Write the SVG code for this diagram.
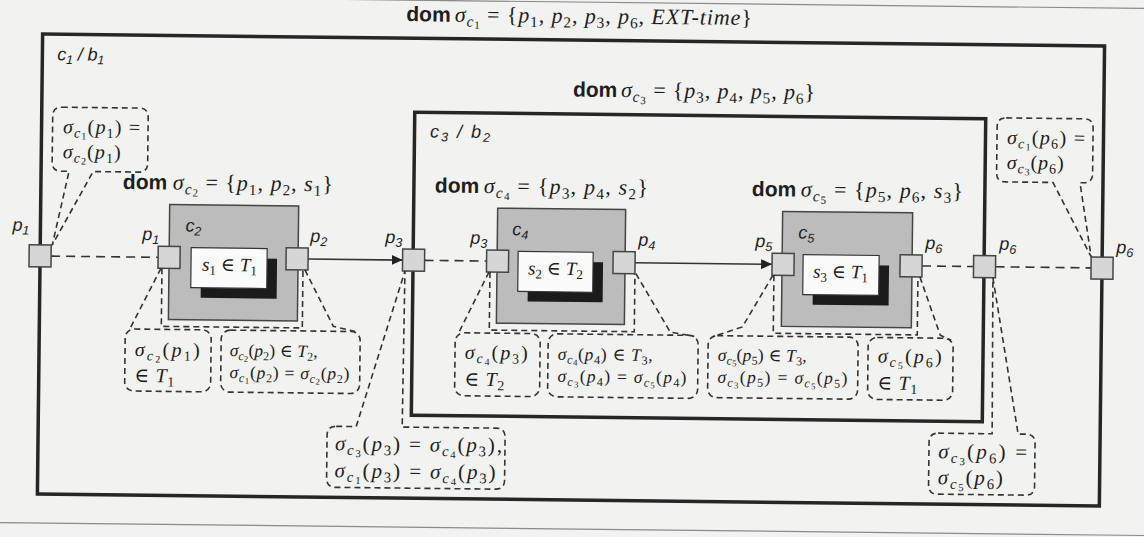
<svg xmlns="http://www.w3.org/2000/svg" width="1144" height="537" viewBox="0 0 1144 537">
<defs>
<style>
.dom{font-family:"Liberation Sans",Arial,sans-serif;font-weight:bold;font-size:21px;fill:#1e1e1e;}
.m{font-family:"Liberation Serif","Times New Roman","DejaVu Serif",serif;fill:#1e1e1e;}
.lab{font-family:"Liberation Sans",Arial,sans-serif;font-style:italic;font-size:18px;fill:#1e1e1e;}
.i{font-style:italic;}
.sb{font-size:70%;}
.ss{font-size:50%;}
.frame{fill:none;stroke:#262626;stroke-width:3.5;}
.comp{fill:#bcbcbc;stroke:#454545;stroke-width:1.5;}
.port{fill:#d6d6d6;stroke:#454545;stroke-width:1.5;}
.inner{fill:#fbfbfb;stroke:#333;stroke-width:1.2;}
.shadow{fill:#1b1b1b;}
.call{fill:none;stroke:#333;stroke-width:1.6;stroke-dasharray:6 4;}
.dl{fill:none;stroke:#333;stroke-width:1.6;stroke-dasharray:9 6;}
.sl{fill:none;stroke:#333;stroke-width:1.6;}
.pg{fill:none;stroke:#8a8a8a;stroke-width:1.2;}
</style>
<marker id="arr" viewBox="0 0 11 10" refX="11" refY="5" markerWidth="11" markerHeight="10" markerUnits="userSpaceOnUse" orient="auto"><path d="M0,0 L11,5 L0,10 Z" fill="#222"/></marker>
</defs>
<rect x="0" y="0" width="1144" height="537" fill="#f2f2f0"/>
<g transform="rotate(0.65 572 268)">
<g id="page-lines">
<line class="pg" x1="-20" y1="2" x2="1170" y2="2"/>
<line class="pg" x1="-20" y1="529" x2="1170" y2="529"/>
</g>
<g id="c1">
<rect class="frame" x="40" y="40" width="1062" height="460"/>
<text class="lab" x="55" y="66" textLength="47">c<tspan class="sb" dy=".3em">1</tspan><tspan dy="-.21em"> / b</tspan><tspan class="sb" dy=".3em">1</tspan></text>
<text class="dom" x="403.5" y="23">dom</text>
<text class="m" x="452" y="23" font-size="22" textLength="297"><tspan class="i">σ</tspan><tspan class="i sb" dy=".3em">c</tspan><tspan class="ss" dy=".2em">1</tspan><tspan dy="-.31em"> = {</tspan><tspan class="i">p</tspan><tspan class="sb" dy=".3em">1</tspan><tspan dy="-.21em">, </tspan><tspan class="i">p</tspan><tspan class="sb" dy=".3em">2</tspan><tspan dy="-.21em">, </tspan><tspan class="i">p</tspan><tspan class="sb" dy=".3em">3</tspan><tspan dy="-.21em">, </tspan><tspan class="i">p</tspan><tspan class="sb" dy=".3em">6</tspan><tspan dy="-.21em">, </tspan><tspan class="i">EXT-time</tspan><tspan>}</tspan></text>
</g>
<g id="c3">
<rect class="frame" x="413" y="114" width="571" height="303"/>
<text class="lab" x="428.5" y="139" textLength="60">c<tspan class="sb" dy=".3em">3</tspan><tspan dy="-.21em"> / b</tspan><tspan class="sb" dy=".3em">2</tspan></text>
<text class="dom" x="571" y="96.5">dom</text>
<text class="m" x="619" y="96.5" font-size="22" textLength="194"><tspan class="i">σ</tspan><tspan class="i sb" dy=".3em">c</tspan><tspan class="ss" dy=".2em">3</tspan><tspan dy="-.31em"> = {</tspan><tspan class="i">p</tspan><tspan class="sb" dy=".3em">3</tspan><tspan dy="-.21em">, </tspan><tspan class="i">p</tspan><tspan class="sb" dy=".3em">4</tspan><tspan dy="-.21em">, </tspan><tspan class="i">p</tspan><tspan class="sb" dy=".3em">5</tspan><tspan dy="-.21em">, </tspan><tspan class="i">p</tspan><tspan class="sb" dy=".3em">6</tspan><tspan dy="-.21em">}</tspan></text>
</g>
<g id="c2">
<text class="dom" x="122" y="194">dom</text>
<text class="m" x="172" y="194" font-size="22" textLength="160"><tspan class="i">σ</tspan><tspan class="i sb" dy=".3em">c</tspan><tspan class="ss" dy=".2em">2</tspan><tspan dy="-.31em"> = {</tspan><tspan class="i">p</tspan><tspan class="sb" dy=".3em">1</tspan><tspan dy="-.21em">, </tspan><tspan class="i">p</tspan><tspan class="sb" dy=".3em">2</tspan><tspan dy="-.21em">, </tspan><tspan class="i">s</tspan><tspan class="sb" dy=".3em">1</tspan><tspan dy="-.21em">}</tspan></text>
<rect class="comp" x="169" y="209" width="129" height="115"/>
<text class="lab" x="185" y="236">c<tspan class="sb" dy=".3em">2</tspan></text>
<rect class="shadow" x="201" y="262" width="76" height="40"/>
<rect class="inner" x="191" y="252" width="76" height="40"/>
<text class="m" x="202" y="275" font-size="19" textLength="55"><tspan class="i">s</tspan><tspan class="sb" dy=".3em">1</tspan><tspan dy="-.21em"> ∈ </tspan><tspan class="i">T</tspan><tspan class="sb" dy=".3em">1</tspan></text>
</g>
<g id="c4">
<text class="dom" x="434" y="194">dom</text>
<text class="m" x="483" y="194" font-size="22" textLength="164"><tspan class="i">σ</tspan><tspan class="i sb" dy=".3em">c</tspan><tspan class="ss" dy=".2em">4</tspan><tspan dy="-.31em"> = {</tspan><tspan class="i">p</tspan><tspan class="sb" dy=".3em">3</tspan><tspan dy="-.21em">, </tspan><tspan class="i">p</tspan><tspan class="sb" dy=".3em">4</tspan><tspan dy="-.21em">, </tspan><tspan class="i">s</tspan><tspan class="sb" dy=".3em">2</tspan><tspan dy="-.21em">}</tspan></text>
<rect class="comp" x="497" y="209" width="128" height="115"/>
<text class="lab" x="512" y="236">c<tspan class="sb" dy=".3em">4</tspan></text>
<rect class="shadow" x="528" y="262" width="75" height="40"/>
<rect class="inner" x="518" y="252" width="75" height="40"/>
<text class="m" x="528" y="275" font-size="19" textLength="55"><tspan class="i">s</tspan><tspan class="sb" dy=".3em">2</tspan><tspan dy="-.21em"> ∈ </tspan><tspan class="i">T</tspan><tspan class="sb" dy=".3em">2</tspan></text>
</g>
<g id="c5">
<text class="dom" x="751" y="194">dom</text>
<text class="m" x="800" y="194" font-size="22" textLength="162"><tspan class="i">σ</tspan><tspan class="i sb" dy=".3em">c</tspan><tspan class="ss" dy=".2em">5</tspan><tspan dy="-.31em"> = {</tspan><tspan class="i">p</tspan><tspan class="sb" dy=".3em">5</tspan><tspan dy="-.21em">, </tspan><tspan class="i">p</tspan><tspan class="sb" dy=".3em">6</tspan><tspan dy="-.21em">, </tspan><tspan class="i">s</tspan><tspan class="sb" dy=".3em">3</tspan><tspan dy="-.21em">}</tspan></text>
<rect class="comp" x="782" y="209" width="130" height="115"/>
<text class="lab" x="798" y="236">c<tspan class="sb" dy=".3em">5</tspan></text>
<rect class="shadow" x="813" y="262" width="76" height="40"/>
<rect class="inner" x="803" y="252" width="76" height="40"/>
<text class="m" x="813" y="275" font-size="19" textLength="55"><tspan class="i">s</tspan><tspan class="sb" dy=".3em">3</tspan><tspan dy="-.21em"> ∈ </tspan><tspan class="i">T</tspan><tspan class="sb" dy=".3em">1</tspan></text>
</g>
<g id="connectors">
<path class="dl" d="M51,262 H158"/>
<path class="sl" d="M308,262 H402.5" marker-end="url(#arr)"/>
<path class="dl" d="M424.5,262 H486.5"/>
<path class="sl" d="M635,262 H772" marker-end="url(#arr)"/>
<path class="dl" d="M922,262 H973.5"/>
<path class="dl" d="M995.5,262 H1091"/>
</g>
<g id="ports">
<g id="port-c1-p1"><rect class="port" x="29" y="251" width="22" height="22"/><text class="lab" x="12" y="237">p<tspan class="sb" dy=".3em">1</tspan></text></g>
<g id="port-c2-p1"><rect class="port" x="158" y="251" width="22" height="22"/><text class="lab" x="142" y="245">p<tspan class="sb" dy=".3em">1</tspan></text></g>
<g id="port-c2-p2"><rect class="port" x="286" y="251" width="22" height="22"/><text class="lab" x="310" y="245">p<tspan class="sb" dy=".3em">2</tspan></text></g>
<g id="port-c3-p3"><rect class="port" x="402.5" y="251" width="22" height="22"/><text class="lab" x="385" y="245">p<tspan class="sb" dy=".3em">3</tspan></text></g>
<g id="port-c4-p3"><rect class="port" x="486.5" y="251" width="22" height="22"/><text class="lab" x="470" y="245">p<tspan class="sb" dy=".3em">3</tspan></text></g>
<g id="port-c4-p4"><rect class="port" x="613" y="251" width="22" height="22"/><text class="lab" x="638" y="245">p<tspan class="sb" dy=".3em">4</tspan></text></g>
<g id="port-c5-p5"><rect class="port" x="772" y="251" width="22" height="22"/><text class="lab" x="755" y="245">p<tspan class="sb" dy=".3em">5</tspan></text></g>
<g id="port-c5-p6"><rect class="port" x="900" y="251" width="22" height="22"/><text class="lab" x="925" y="245">p<tspan class="sb" dy=".3em">6</tspan></text></g>
<g id="port-c3-p6"><rect class="port" x="973.5" y="251" width="22" height="22"/><text class="lab" x="999" y="245">p<tspan class="sb" dy=".3em">6</tspan></text></g>
<g id="port-c1-p6"><rect class="port" x="1091" y="251" width="22" height="22"/><text class="lab" x="1116" y="247">p<tspan class="sb" dy=".3em">6</tspan></text></g>
</g>
<g id="callouts">
<g id="note-c1-p1">
<path class="call" d="M60,113 H137.5 Q146.5,113 146.5,122 V168 Q146.5,177 137.5,177 H92 L52,251 L68,177 H60 Q51,177 51,168 V122 Q51,113 60,113 Z"/>
<text class="m" x="61.5" y="139" font-size="20" textLength="77"><tspan class="i">σ</tspan><tspan class="i sb" dy=".3em">c</tspan><tspan class="ss" dy=".2em">1</tspan><tspan dy="-.31em">(</tspan><tspan class="i">p</tspan><tspan class="sb" dy=".3em">1</tspan><tspan dy="-.21em">) =</tspan></text>
<text class="m" x="61.5" y="164" font-size="20" textLength="58"><tspan class="i">σ</tspan><tspan class="i sb" dy=".3em">c</tspan><tspan class="ss" dy=".2em">2</tspan><tspan dy="-.31em">(</tspan><tspan class="i">p</tspan><tspan class="sb" dy=".3em">1</tspan><tspan dy="-.21em">)</tspan></text>
</g>
<g id="note-c1-p6">
<path class="call" d="M1004.5,113 H1082.5 Q1091.5,113 1091.5,122 V168 Q1091.5,177 1082.5,177 H1079 L1091,251 L1052,177 H1004.5 Q995.5,177 995.5,168 V122 Q995.5,113 1004.5,113 Z"/>
<text class="m" x="1005.5" y="139" font-size="20" textLength="78"><tspan class="i">σ</tspan><tspan class="i sb" dy=".3em">c</tspan><tspan class="ss" dy=".2em">1</tspan><tspan dy="-.31em">(</tspan><tspan class="i">p</tspan><tspan class="sb" dy=".3em">6</tspan><tspan dy="-.21em">) =</tspan></text>
<text class="m" x="1005.5" y="164" font-size="20" textLength="57"><tspan class="i">σ</tspan><tspan class="i sb" dy=".3em">c</tspan><tspan class="ss" dy=".2em">3</tspan><tspan dy="-.31em">(</tspan><tspan class="i">p</tspan><tspan class="sb" dy=".3em">6</tspan><tspan dy="-.21em">)</tspan></text>
</g>
<g id="note-c2-tails">
<path class="call" d="M161,273 L130,335"/>
<path class="call" d="M162,273 V331 H303 V273"/>
<path class="call" d="M305,273 L334,329 L356,334"/>
</g>
<g id="note-c2-p1">
<rect class="call" x="126" y="334" width="86" height="62" rx="9"/>
<text class="m" x="135.7" y="361" font-size="20" textLength="65"><tspan class="i">σ</tspan><tspan class="i sb" dy=".3em">c</tspan><tspan class="ss" dy=".2em">2</tspan><tspan dy="-.31em">(</tspan><tspan class="i">p</tspan><tspan class="sb" dy=".3em">1</tspan><tspan dy="-.21em">)</tspan></text>
<text class="m" x="135.7" y="387" font-size="20" textLength="40"><tspan>∈ </tspan><tspan class="i">T</tspan><tspan class="sb" dy=".3em">1</tspan></text>
</g>
<g id="note-c2-p2">
<rect class="call" x="222" y="334" width="139" height="62" rx="9"/>
<text class="m" x="230.7" y="360" font-size="17.5" textLength="88"><tspan class="i">σ</tspan><tspan class="i sb" dy=".3em">c</tspan><tspan class="ss" dy=".2em">2</tspan><tspan dy="-.31em">(</tspan><tspan class="i">p</tspan><tspan class="sb" dy=".3em">2</tspan><tspan dy="-.21em">) ∈ </tspan><tspan class="i">T</tspan><tspan class="sb" dy=".3em">2</tspan><tspan dy="-.21em">,</tspan></text>
<text class="m" x="230.7" y="382" font-size="17.5" textLength="120"><tspan class="i">σ</tspan><tspan class="i sb" dy=".3em">c</tspan><tspan class="ss" dy=".2em">1</tspan><tspan dy="-.31em">(</tspan><tspan class="i">p</tspan><tspan class="sb" dy=".3em">2</tspan><tspan dy="-.21em">) = </tspan><tspan class="i">σ</tspan><tspan class="i sb" dy=".3em">c</tspan><tspan class="ss" dy=".2em">2</tspan><tspan dy="-.31em">(</tspan><tspan class="i">p</tspan><tspan class="sb" dy=".3em">2</tspan><tspan dy="-.21em">)</tspan></text>
</g>
<g id="note-c4-tails">
<path class="call" d="M489,273 L459,335"/>
<path class="call" d="M490,273 V331 H635 V273"/>
<path class="call" d="M636,273 L671,331 L695,335"/>
</g>
<g id="note-c4-p3">
<rect class="call" x="456" y="334" width="85" height="63" rx="9"/>
<text class="m" x="465.7" y="360" font-size="20" textLength="63"><tspan class="i">σ</tspan><tspan class="i sb" dy=".3em">c</tspan><tspan class="ss" dy=".2em">4</tspan><tspan dy="-.31em">(</tspan><tspan class="i">p</tspan><tspan class="sb" dy=".3em">3</tspan><tspan dy="-.21em">)</tspan></text>
<text class="m" x="465.7" y="387" font-size="20" textLength="40"><tspan>∈ </tspan><tspan class="i">T</tspan><tspan class="sb" dy=".3em">2</tspan></text>
</g>
<g id="note-c4-p4">
<rect class="call" x="549" y="334" width="150" height="63" rx="9"/>
<text class="m" x="558.7" y="360" font-size="17.5" textLength="95"><tspan class="i">σ</tspan><tspan class="i sb" dy=".3em">c</tspan><tspan class="ss" dy=".2em">4</tspan><tspan dy="-.31em">(</tspan><tspan class="i">p</tspan><tspan class="sb" dy=".3em">4</tspan><tspan dy="-.21em">) ∈ </tspan><tspan class="i">T</tspan><tspan class="sb" dy=".3em">3</tspan><tspan dy="-.21em">,</tspan></text>
<text class="m" x="558.7" y="382" font-size="17.5" textLength="129"><tspan class="i">σ</tspan><tspan class="i sb" dy=".3em">c</tspan><tspan class="ss" dy=".2em">3</tspan><tspan dy="-.31em">(</tspan><tspan class="i">p</tspan><tspan class="sb" dy=".3em">4</tspan><tspan dy="-.21em">) = </tspan><tspan class="i">σ</tspan><tspan class="i sb" dy=".3em">c</tspan><tspan class="ss" dy=".2em">5</tspan><tspan dy="-.31em">(</tspan><tspan class="i">p</tspan><tspan class="sb" dy=".3em">4</tspan><tspan dy="-.21em">)</tspan></text>
</g>
<g id="note-c5-tails">
<path class="call" d="M773,273 L743,325 L714,335"/>
<path class="call" d="M774,273 V331 H918 V273"/>
<path class="call" d="M920,273 L941,331 L952,336"/>
</g>
<g id="note-c5-p5">
<rect class="call" x="709" y="334" width="150" height="62" rx="9"/>
<text class="m" x="718.7" y="359" font-size="17.5" textLength="89"><tspan class="i">σ</tspan><tspan class="i sb" dy=".3em">c</tspan><tspan class="ss" dy=".2em">5</tspan><tspan dy="-.31em">(</tspan><tspan class="i">p</tspan><tspan class="sb" dy=".3em">5</tspan><tspan dy="-.21em">) ∈ </tspan><tspan class="i">T</tspan><tspan class="sb" dy=".3em">3</tspan><tspan dy="-.21em">,</tspan></text>
<text class="m" x="718.7" y="381" font-size="17.5" textLength="130"><tspan class="i">σ</tspan><tspan class="i sb" dy=".3em">c</tspan><tspan class="ss" dy=".2em">3</tspan><tspan dy="-.31em">(</tspan><tspan class="i">p</tspan><tspan class="sb" dy=".3em">5</tspan><tspan dy="-.21em">) = </tspan><tspan class="i">σ</tspan><tspan class="i sb" dy=".3em">c</tspan><tspan class="ss" dy=".2em">5</tspan><tspan dy="-.31em">(</tspan><tspan class="i">p</tspan><tspan class="sb" dy=".3em">5</tspan><tspan dy="-.21em">)</tspan></text>
</g>
<g id="note-c5-p6">
<rect class="call" x="869" y="334" width="85" height="62" rx="9"/>
<text class="m" x="878.7" y="359" font-size="20" textLength="64"><tspan class="i">σ</tspan><tspan class="i sb" dy=".3em">c</tspan><tspan class="ss" dy=".2em">5</tspan><tspan dy="-.31em">(</tspan><tspan class="i">p</tspan><tspan class="sb" dy=".3em">6</tspan><tspan dy="-.21em">)</tspan></text>
<text class="m" x="878.7" y="386" font-size="20" textLength="40"><tspan>∈ </tspan><tspan class="i">T</tspan><tspan class="sb" dy=".3em">1</tspan></text>
</g>
<g id="note-c3-p3">
<path class="call" d="M338,429 H358 L405,273 L404,429 H498 Q507,429 507,438 V481 Q507,490 498,490 H338 Q329,490 329,481 V438 Q329,429 338,429 Z"/>
<text class="m" x="337" y="453" font-size="21" textLength="167"><tspan class="i">σ</tspan><tspan class="i sb" dy=".3em">c</tspan><tspan class="ss" dy=".2em">3</tspan><tspan dy="-.31em">(</tspan><tspan class="i">p</tspan><tspan class="sb" dy=".3em">3</tspan><tspan dy="-.21em">) = </tspan><tspan class="i">σ</tspan><tspan class="i sb" dy=".3em">c</tspan><tspan class="ss" dy=".2em">4</tspan><tspan dy="-.31em">(</tspan><tspan class="i">p</tspan><tspan class="sb" dy=".3em">3</tspan><tspan dy="-.21em">),</tspan></text>
<text class="m" x="337" y="480" font-size="21" textLength="161"><tspan class="i">σ</tspan><tspan class="i sb" dy=".3em">c</tspan><tspan class="ss" dy=".2em">1</tspan><tspan dy="-.31em">(</tspan><tspan class="i">p</tspan><tspan class="sb" dy=".3em">3</tspan><tspan dy="-.21em">) = </tspan><tspan class="i">σ</tspan><tspan class="i sb" dy=".3em">c</tspan><tspan class="ss" dy=".2em">4</tspan><tspan dy="-.31em">(</tspan><tspan class="i">p</tspan><tspan class="sb" dy=".3em">3</tspan><tspan dy="-.21em">)</tspan></text>
</g>
<g id="note-c3-p6">
<path class="call" d="M940,429 H994 L993,273 L1020,429 H1028 Q1037,429 1037,438 V481 Q1037,490 1028,490 H940 Q931,490 931,481 V438 Q931,429 940,429 Z"/>
<text class="m" x="940.3" y="454" font-size="21" textLength="89"><tspan class="i">σ</tspan><tspan class="i sb" dy=".3em">c</tspan><tspan class="ss" dy=".2em">3</tspan><tspan dy="-.31em">(</tspan><tspan class="i">p</tspan><tspan class="sb" dy=".3em">6</tspan><tspan dy="-.21em">) =</tspan></text>
<text class="m" x="940.3" y="480" font-size="21" textLength="65"><tspan class="i">σ</tspan><tspan class="i sb" dy=".3em">c</tspan><tspan class="ss" dy=".2em">5</tspan><tspan dy="-.31em">(</tspan><tspan class="i">p</tspan><tspan class="sb" dy=".3em">6</tspan><tspan dy="-.21em">)</tspan></text>
</g>
</g>
</g>
</svg>
